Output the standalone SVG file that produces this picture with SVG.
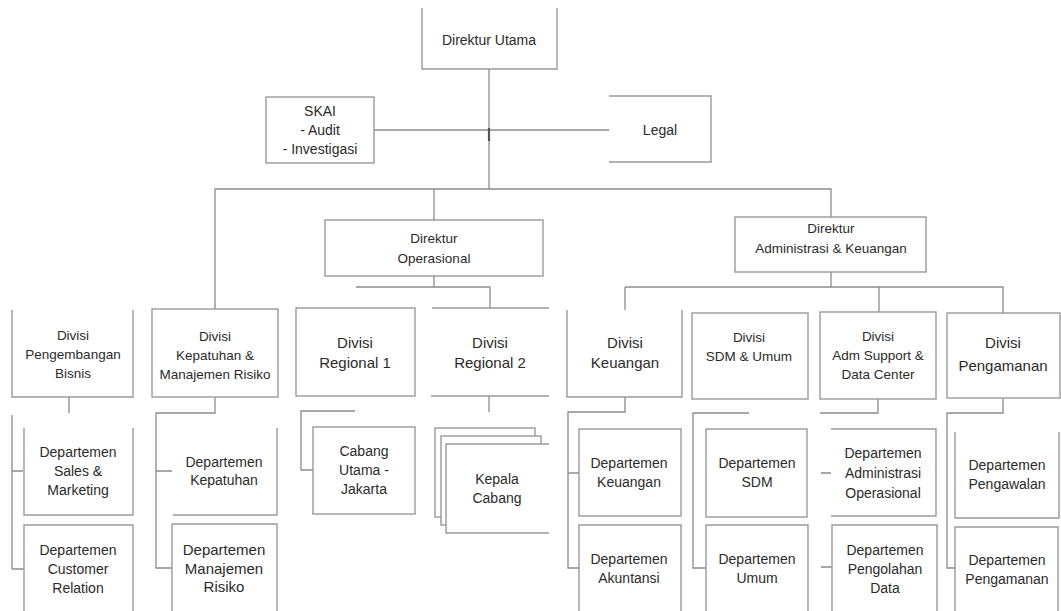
<svg xmlns="http://www.w3.org/2000/svg" width="1061" height="611" viewBox="0 0 1061 611">
<style>
.bx{fill:#fff;stroke:#9a9a9a;stroke-width:1.4}
.bg{fill:#fff;stroke:none}
.ed{fill:none;stroke:#9a9a9a;stroke-width:1.4}
.cn{fill:none;stroke:#8c8c8c;stroke-width:1.3}
text{font-family:"Liberation Sans",Arial,sans-serif;font-size:14px;fill:#2b2b2b;text-anchor:middle}
.s{font-size:13.5px}
.l{font-size:15px}
</style>
<rect width="1061" height="611" fill="#fff"/>
<g id="connectors">
<path class="cn" d="M489,69V189"/>
<path class="cn" d="M374,130H609"/>
<path d="M489,128V141" stroke="#555" stroke-width="2.2"/>
<path class="cn" d="M215,309V189H831V217"/>
<path class="cn" d="M434,189V220"/>
<path class="cn" d="M434,276V287M356,287H490V308"/>
<path class="cn" d="M831,272V287M625,287H1003V313M625,287V310M879,287V312"/>
<path class="cn" d="M69,397V413M12,415V569M12,471H23M12,569H24"/>
<path class="cn" d="M215,397V413H156V568H172M156,471H172"/>
<path class="cn" d="M355,411H301V470H313"/>
<path class="cn" d="M489,396V412"/>
<path class="cn" d="M625,397V412H568V568H579M568,473H579"/>
<path class="cn" d="M749,413H693V568H706"/>
<path class="cn" d="M878,399V413H820M821,473H831M821,567H832"/>
<path class="cn" d="M1003,398V413H947V568H955"/>
</g>
<g id="n-dirut"><rect class="bg" x="422" y="8" width="135" height="61"/><path class="ed" d="M422,8V69H557V8"/><text x="489" y="45">Direktur Utama</text></g>
<g id="n-skai"><rect class="bx" x="266" y="97" width="108" height="66"/><text x="320" y="116">SKAI</text><text x="320" y="135">- Audit</text><text x="320" y="154">- Investigasi</text></g>
<g id="n-legal"><rect class="bg" x="609" y="96" width="102" height="66"/><path class="ed" d="M609,96H711V162H609"/><text x="660" y="135">Legal</text></g>
<g id="n-dirops"><rect class="bx" x="325" y="220" width="218" height="56"/><text class="s" x="434" y="243">Direktur</text><text class="s" x="434" y="263">Operasional</text></g>
<g id="n-diradm"><rect class="bx" x="735" y="217" width="191" height="55"/><text class="s" x="831" y="233">Direktur</text><text class="s" x="831" y="253">Administrasi &amp; Keuangan</text></g>
<g id="n-div-bisnis"><rect class="bg" x="12" y="310" width="121" height="87"/><path class="ed" d="M12,310V397H133V310"/><text class="s" x="73" y="340">Divisi</text><text class="s" x="73" y="359">Pengembangan</text><text class="s" x="73" y="378">Bisnis</text></g>
<g id="n-div-kepatuhan"><rect class="bx" x="152" y="309" width="126" height="88"/><text class="s" x="215" y="341">Divisi</text><text class="s" x="215" y="360">Kepatuhan &amp;</text><text class="s" x="215" y="379">Manajemen Risiko</text></g>
<g id="n-div-reg1"><rect class="bx" x="296" y="308" width="119" height="88"/><text class="l" x="355" y="348">Divisi</text><text class="l" x="355" y="368">Regional 1</text></g>
<g id="n-div-reg2"><rect class="bg" x="432" y="308" width="117" height="88"/><path class="ed" d="M432,308H549M431,396H549"/><text class="l" x="490" y="348">Divisi</text><text class="l" x="490" y="368">Regional 2</text></g>
<g id="n-div-keu"><rect class="bg" x="567" y="310" width="115" height="87"/><path class="ed" d="M567,310V397H682V310"/><text class="l" x="625" y="348">Divisi</text><text class="l" x="625" y="368">Keuangan</text></g>
<g id="n-div-sdm"><rect class="bx" x="692" y="313" width="116" height="86"/><text class="s" x="749" y="342">Divisi</text><text class="s" x="749" y="361">SDM  &amp; Umum</text></g>
<g id="n-div-adm"><rect class="bx" x="820" y="312" width="116" height="87"/><text class="s" x="878" y="341">Divisi</text><text class="s" x="878" y="360">Adm Support &amp;</text><text class="s" x="878" y="379">Data Center</text></g>
<g id="n-div-pengamanan"><rect class="bx" x="947" y="313" width="113" height="85"/><text class="l" x="1003" y="348">Divisi</text><text class="l" x="1003" y="371">Pengamanan</text></g>
<g id="n-dept-sales"><rect class="bg" x="24" y="428" width="109" height="87"/><path class="ed" d="M24,428V515H133V428"/><text x="78" y="457">Departemen</text><text x="78" y="476">Sales &amp;</text><text x="78" y="495">Marketing</text></g>
<g id="n-dept-customer"><rect class="bg" x="24" y="525" width="109" height="86"/><path class="ed" d="M24,611V525H133V611"/><text x="78" y="555">Departemen</text><text x="78" y="574">Customer</text><text x="78" y="593">Relation</text></g>
<g id="n-dept-kepatuhan"><rect class="bg" x="173" y="428" width="104" height="87"/><path class="ed" d="M173,515H277V428"/><text x="224" y="467">Departemen</text><text x="224" y="485">Kepatuhan</text></g>
<g id="n-dept-risiko"><rect class="bg" x="172" y="524" width="105" height="87"/><path class="ed" d="M172,611V524H277V611"/><text class="l" x="224" y="555">Departemen</text><text class="l" x="224" y="574">Manajemen</text><text class="l" x="224" y="592">Risiko</text></g>
<g id="n-cabang-utama"><rect class="bx" x="313" y="427" width="102" height="87"/><text x="364" y="456">Cabang</text><text x="364" y="475">Utama -</text><text x="364" y="494">Jakarta</text></g>
<g id="n-kepala-cabang"><rect class="bx" x="435" y="428" width="100" height="89"/><rect class="bx" x="441" y="436" width="100" height="89"/><rect class="bg" x="446" y="444" width="103" height="89"/><path class="ed" d="M549,444H446V533H549"/><text x="497" y="484">Kepala</text><text x="497" y="503">Cabang</text></g>
<g id="n-dept-keuangan"><rect class="bx" x="579" y="429" width="102" height="87"/><text x="629" y="468">Departemen</text><text x="629" y="487">Keuangan</text></g>
<g id="n-dept-akuntansi"><rect class="bg" x="579" y="525" width="102" height="86"/><path class="ed" d="M579,611V525H681V611"/><text x="629" y="564">Departemen</text><text x="629" y="583">Akuntansi</text></g>
<g id="n-dept-sdm"><rect class="bx" x="706" y="429" width="101" height="88"/><text x="757" y="468">Departemen</text><text x="757" y="487">SDM</text></g>
<g id="n-dept-umum"><rect class="bg" x="706" y="525" width="102" height="86"/><path class="ed" d="M706,611V525H808V611"/><text x="757" y="564">Departemen</text><text x="757" y="583">Umum</text></g>
<g id="n-dept-admops"><rect class="bg" x="831" y="429" width="105" height="87"/><path class="ed" d="M831,429H936V516H831"/><text x="883" y="458">Departemen</text><text x="883" y="478">Administrasi</text><text x="883" y="498">Operasional</text></g>
<g id="n-dept-pengolahan"><rect class="bg" x="832" y="525" width="105" height="86"/><path class="ed" d="M832,611V525H937V611"/><text x="885" y="555">Departemen</text><text x="885" y="574">Pengolahan</text><text x="885" y="593">Data</text></g>
<g id="n-dept-pengawalan"><rect class="bg" x="955" y="432" width="104" height="86"/><path class="ed" d="M955,432V518H1059V432"/><text x="1007" y="470">Departemen</text><text x="1007" y="489">Pengawalan</text></g>
<g id="n-dept-pengamanan"><rect class="bg" x="955" y="527" width="103" height="84"/><path class="ed" d="M955,611V527H1058V611"/><text x="1007" y="565">Departemen</text><text x="1007" y="584">Pengamanan</text></g>
</svg>
